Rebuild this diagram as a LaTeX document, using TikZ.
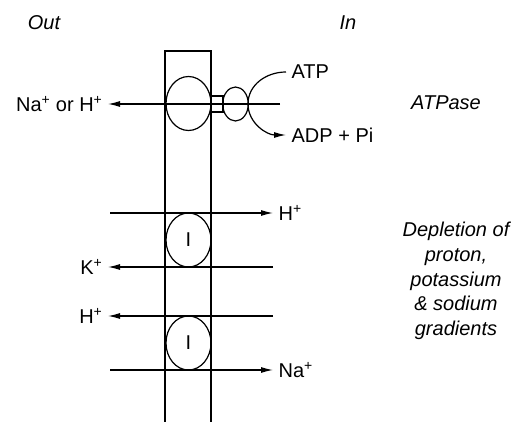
\documentclass[tikz,border=0pt]{standalone}
\usepackage{fontspec}
\setmainfont{Liberation Sans}
\usetikzlibrary{arrows.meta}
\usetikzlibrary{shapes.geometric}

\begin{document}
\begin{tikzpicture}[x=1pt,y=-1pt,line width=1.2pt,
    every node/.style={font=\fontsize{20}{24.7}\selectfont,inner sep=5pt},
    ion/.style={-{Latex[length=12pt,width=6pt]}},
    carrier/.style={draw,ellipse,minimum width=45pt,minimum height=54pt,inner sep=0pt}]
    \useasboundingbox (0,0) rectangle (520,422);

    %sides
    \node at (44,23) {\itshape Out};
    \node at (348,23) {\itshape In};

    %membrane
    \draw (165,422) -- (165,51) -- (211,51) -- (211,422);

    %ATPase
    \draw (188.5,103.5) ellipse [x radius=22.5, y radius=27];
    \draw (211,96) rectangle (223,112);
    \draw (235.5,104) ellipse [x radius=12.8, y radius=17];
    \coordinate (inA) at (280,104);
    \coordinate (bend) at (248,104);
    \node[anchor=east] (naH) at (108,104) {Na\textsuperscript{+} or H\textsuperscript{+}};
    \node[anchor=west] (atp) at (286,72) {ATP};
    \node[anchor=west] (adp) at (286,135) {ADP + Pi};
    \node at (446,103) {\itshape ATPase};
    \draw [ion] (inA) -- (naH);
    \draw [ion] (atp) to[out=180,in=90] (bend) to[out=-90,in=180] (adp);

    %ion channels
    \node[carrier] (chanA) at (188.5,240) {I};
    \node[carrier] (chanB) at (188.5,343) {I};

    \coordinate (hOut) at (110,213);
    \node[anchor=west] (hIn) at (273,213) {H\textsuperscript{+}};
    \draw [ion] (hOut) -- (hIn);

    \coordinate (kIn) at (273,267);
    \node[anchor=east] (kOut) at (108,267) {K\textsuperscript{+}};
    \draw [ion] (kIn) -- (kOut);

    \coordinate (hpIn) at (273,316);
    \node[anchor=east] (hpOut) at (108,316) {H\textsuperscript{+}};
    \draw [ion] (hpIn) -- (hpOut);

    \coordinate (naOut) at (110,370);
    \node[anchor=west] (naIn) at (273,370) {Na\textsuperscript{+}};
    \draw [ion] (naOut) -- (naIn);

    \node[align=center] at (456,281) {\itshape Depletion of\\ \itshape proton,\\ \itshape potassium\\ \itshape \& sodium\\ \itshape gradients};

\end{tikzpicture}
\end{document}
